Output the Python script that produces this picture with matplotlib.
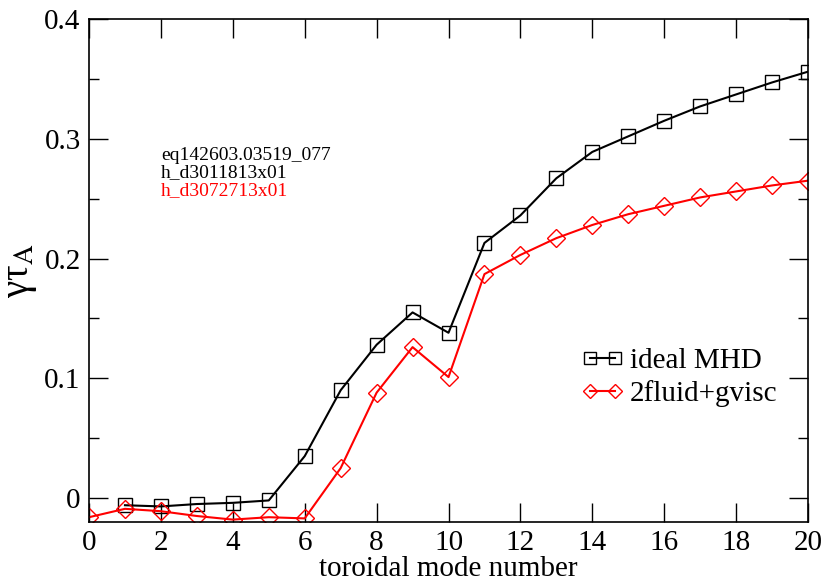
import numpy as np
import matplotlib
matplotlib.use("Agg")
import matplotlib.pyplot as plt

plt.rcParams['font.family'] = ['Liberation Serif', 'DejaVu Serif']
plt.rcParams['mathtext.fontset'] = 'stix'

# toroidal mode numbers and growth rates
n_ideal = [1, 2, 3, 4, 5, 6, 7, 8, 9, 10, 11, 12, 13, 14, 15, 16, 17, 18, 19, 20]
gamma_ideal = [-0.006, -0.007, -0.005, -0.004, -0.002, 0.035, 0.090, 0.128, 0.155, 0.138,
               0.213, 0.236, 0.267, 0.289, 0.302, 0.315, 0.327, 0.337, 0.347, 0.356]

n_2fluid = [0, 1, 2, 3, 4, 5, 6, 7, 8, 9, 10, 11, 12, 13, 14, 15, 16, 17, 18, 19, 20]
gamma_2fluid = [-0.016, -0.009, -0.011, -0.015, -0.018, -0.016, -0.017, 0.025, 0.088, 0.126,
                0.101, 0.187, 0.203, 0.217, 0.228, 0.237, 0.244, 0.251, 0.256, 0.261, 0.265]

notes = ["eq142603.03519_077", "h_d3011813x01", "h_d3072713x01"]
note_colors = ["black", "black", "red"]

fig = plt.figure(figsize=(8.25, 5.82), dpi=100)
ax = fig.add_axes([0.1079, 0.1031, 0.8715, 0.8643])

ax.plot(n_ideal, gamma_ideal, color="black", lw=1.5, marker="s", ms=10,
        mfc="none", mec="black", mew=1.0, label="ideal MHD")
ax.plot(n_2fluid, gamma_2fluid, color="red", lw=1.5, marker="D", ms=9,
        mfc="none", mec="red", mew=1.0, label="2fluid+gvisc")

ax.set_xlim(0, 20)
ax.set_ylim(-0.02, 0.4)
ax.set_xticks(np.arange(0, 21, 2))
ax.set_yticks([0, 0.1, 0.2, 0.3, 0.4])
ax.set_yticklabels(["0", "0.1", "0.2", "0.3", "0.4"])
ax.set_yticks(np.arange(0.05, 0.4, 0.1), minor=True)
ax.tick_params(which="both", direction="in", top=True, right=True, labelsize=21, width=1.0)
ax.tick_params(which="major", length=14, pad=6)
ax.tick_params(which="minor", length=7)
for spine in ax.spines.values():
    spine.set_linewidth(1.2)

ax.set_xlabel("toroidal mode number", fontsize=21, labelpad=0)
ax.set_ylabel(r"γτ$_\mathrm{A}$", fontsize=28, labelpad=4)

for i, (txt, c) in enumerate(zip(notes, note_colors)):
    ax.text(0.1, 0.72 - i * 0.035, txt, transform=ax.transAxes, color=c,
            fontsize=14, va="baseline")

ax.legend(loc="upper left", bbox_to_anchor=(0.665, 0.375), frameon=False, fontsize=21,
          numpoints=2, markerscale=0.8, handlelength=1.45, handletextpad=0.2,
          labelspacing=0.2, borderpad=0)

fig.savefig("out.png", dpi=100)
